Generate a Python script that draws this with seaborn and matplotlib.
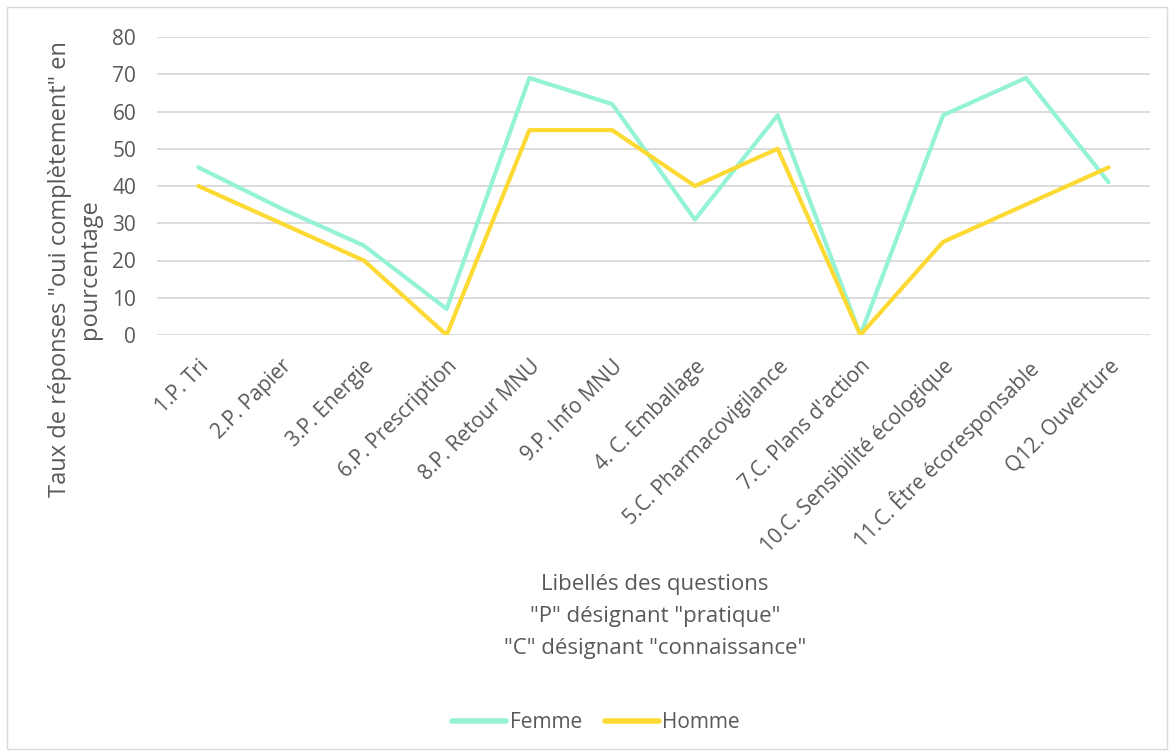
import matplotlib
matplotlib.use("Agg")
import matplotlib.pyplot as plt
import seaborn as sns
import pandas as pd
from matplotlib.patches import Rectangle
from matplotlib.lines import Line2D

categories = ["1.P. Tri", "2.P. Papier", "3.P. Energie", "6.P. Prescription",
              "8.P. Retour MNU", "9.P. Info MNU", "4. C. Emballage",
              "5.C. Pharmacovigilance", "7.C. Plans d'action",
              "10.C. Sensibilité écologique", "11.C. Être écoresponsable",
              "Q12. Ouverture"]
femme = [45, 34, 24, 7, 69, 62, 31, 59, 0, 59, 69, 41]
homme = [40, 30, 20, 0, 55, 55, 40, 50, 0, 25, 35, 45]
y_ticks = [0, 10, 20, 30, 40, 50, 60, 70, 80]

df = pd.DataFrame({
    "Question": categories * 2,
    "Valeur": femme + homme,
    "Sexe": ["Femme"] * len(categories) + ["Homme"] * len(categories),
})

sns.set_theme(style="white")
plt.rcParams["font.family"] = ["Open Sans", "DejaVu Sans"]
gray = "#595959"

fig = plt.figure(figsize=(11.74, 7.56), dpi=100)
ax = fig.add_axes([157/1174, 1-335/756, (1150-157)/1174, (335-37)/756])

palette = {"Femme": "#94F2D6", "Homme": "#FDDA33"}
sns.lineplot(data=df, x="Question", y="Valeur", hue="Sexe", palette=palette,
             linewidth=3.0, sort=False, ax=ax, legend=False)

ax.set_xlim(-0.5, len(categories) - 0.5)
ax.set_ylim(0, 80)
ax.set_yticks(y_ticks)
ax.set_yticklabels([str(v) for v in y_ticks], fontsize=15, color=gray)
ax.set_xticks(range(len(categories)))
ax.set_xticklabels(categories, rotation=45, ha="right", rotation_mode="anchor",
                   fontsize=15, color=gray)
ax.tick_params(axis="x", length=0, pad=15)
ax.tick_params(axis="y", length=0, pad=15)
ax.grid(axis="y", color="#D9D9D9", linewidth=1.3)
ax.set_axisbelow(True)
for s in ax.spines.values():
    s.set_visible(False)

ax.set_xlabel('Libellés des questions\n"P" désignant "pratique"\n"C" désignant "connaissance"',
              fontsize=16, color=gray, linespacing=1.7)
ax.xaxis.set_label_coords((655-157)/993, (335-574)/298)
ax.set_ylabel('Taux de réponses "oui complètement" en\npourcentage',
              fontsize=17, color=gray, linespacing=1.3)
ax.yaxis.set_label_coords((75-157)/993, (335-269)/298)
ax.yaxis.label.set_va("center")

handles = [Line2D([], [], color=palette[k], linewidth=4, solid_capstyle="round") for k in ["Femme", "Homme"]]
leg = fig.legend(handles, ["Femme", "Homme"], loc="center", bbox_to_anchor=(596/1174, 1-723/756),
                 ncol=2, frameon=False, fontsize=15, handlelength=2.6, handletextpad=0.15,
                 columnspacing=1.1)
for t in leg.get_texts():
    t.set_color(gray)

fig.patches.append(Rectangle((7/1174, 7/756), 1160/1174, 742/756, transform=fig.transFigure,
                             fill=False, edgecolor="#D9D9D9", linewidth=1))

fig.savefig("out.png", dpi=100, facecolor="white")
